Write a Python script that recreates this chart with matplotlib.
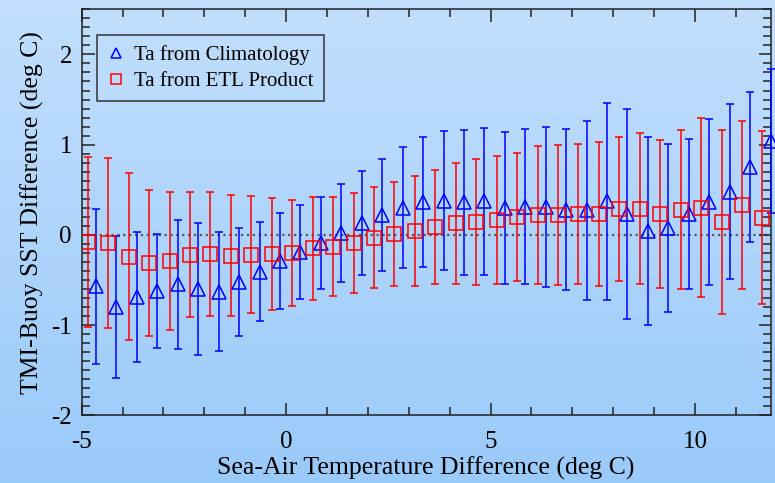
import numpy as np
import matplotlib
matplotlib.use("Agg")
import matplotlib.pyplot as plt
from matplotlib.ticker import MultipleLocator

plt.rcParams['font.family'] = ['Liberation Serif', 'DejaVu Serif']
plt.rcParams['axes.unicode_minus'] = False

# Sea-air temperature difference bins (deg C), offset per series
clim_x = np.arange(-4.65, 11.86, 0.5)
etl_x = np.arange(-4.85, 11.66, 0.5)

# Ta from Climatology: mean TMI-buoy SST difference and std dev
clim_y = [-0.57, -0.80, -0.69, -0.62, -0.55, -0.60, -0.63, -0.52, -0.41, -0.29,
          -0.19, -0.09, 0.02, 0.13, 0.22, 0.30, 0.36, 0.38, 0.36, 0.37,
          0.30, 0.31, 0.31, 0.28, 0.27, 0.37, 0.23, 0.04, 0.08, 0.23,
          0.36, 0.48, 0.75, 1.04]
clim_err = [0.86, 0.79, 0.72, 0.63, 0.71, 0.73, 0.66, 0.60, 0.55, 0.53,
            0.52, 0.51, 0.54, 0.58, 0.62, 0.67, 0.72, 0.77, 0.80, 0.82,
            0.84, 0.86, 0.89, 0.89, 0.99, 1.09, 1.16, 1.04, 0.93, 0.83,
            0.92, 0.97, 0.83, 0.80]

# Ta from ETL product
etl_y = [-0.08, -0.09, -0.24, -0.31, -0.29, -0.22, -0.21, -0.23, -0.22, -0.21,
         -0.20, -0.15, -0.13, -0.09, -0.03, 0.01, 0.04, 0.09, 0.13, 0.14,
         0.16, 0.20, 0.22, 0.22, 0.23, 0.23, 0.29, 0.29, 0.23, 0.28,
         0.30, 0.14, 0.33, 0.19]
etl_err = [0.94, 0.94, 0.93, 0.81, 0.76, 0.69, 0.69, 0.67, 0.65, 0.62,
           0.59, 0.57, 0.55, 0.55, 0.56, 0.58, 0.61, 0.63, 0.67, 0.70,
           0.71, 0.71, 0.76, 0.78, 0.78, 0.80, 0.80, 0.84, 0.82, 0.88,
           0.99, 1.02, 0.93, 0.96]

fig = plt.figure(figsize=(7.75, 4.83), dpi=100)

# light blue vertical gradient behind everything
bg = fig.add_axes([0, 0, 1, 1], zorder=-10)
top_c = np.array([194, 223, 253]) / 255
bot_c = np.array([154, 202, 250]) / 255
t = np.linspace(0, 1, 256)[:, None]
grad = (top_c * (1 - t) + bot_c * t)[:, None, :]
bg.imshow(grad, aspect='auto', extent=[0, 1, 0, 1])
bg.axis('off')

ax = fig.add_axes([0.1054, 0.1402, 0.8889, 0.8405])
ax.set_facecolor('none')

ax.axhline(0, color='#555555', linestyle=':', linewidth=1.6, zorder=1)

ax.errorbar(etl_x, etl_y, yerr=etl_err, fmt='none', ecolor='red',
            elinewidth=1.1, capsize=2.8, capthick=1.1, zorder=2)
ax.errorbar(clim_x, clim_y, yerr=clim_err, fmt='none', ecolor='blue',
            elinewidth=1.1, capsize=2.8, capthick=1.1, zorder=3, clip_on=False)
ax.plot(clim_x, clim_y, linestyle='none', marker='^', markersize=10,
        markerfacecolor='none', markeredgecolor='blue', markeredgewidth=1.1,
        label='Ta from Climatology', zorder=4, clip_on=False)
ax.plot(etl_x, etl_y, linestyle='none', marker='s', markersize=10,
        markerfacecolor='none', markeredgecolor='red', markeredgewidth=1.1,
        label='Ta from ETL Product', zorder=4)

ax.set_xlim(-5, 11.85)
ax.set_ylim(-2, 2.5)
ax.xaxis.set_major_locator(MultipleLocator(5))
ax.xaxis.set_minor_locator(MultipleLocator(1))
ax.yaxis.set_major_locator(MultipleLocator(1))
ax.yaxis.set_minor_locator(MultipleLocator(0.1))
ax.tick_params(which='both', direction='in', top=True, right=True,
               color='#222222', width=1.1, labelsize=18)
ax.tick_params(which='major', length=9)
ax.tick_params(which='minor', length=5.5)
ax.tick_params(axis='x', pad=11)
ax.tick_params(axis='y', pad=7)
for s in ax.spines.values():
    s.set_color('#222222')
    s.set_linewidth(1.1)

ax.set_xlabel('Sea-Air Temperature Difference (deg C)', fontsize=18.5, labelpad=3)
ax.set_ylabel('TMI-Buoy SST Difference (deg C)', fontsize=18.5, labelpad=5)

leg = ax.legend(loc='upper left', bbox_to_anchor=(0.022, 0.937),
                borderaxespad=0, fontsize=15, markerscale=0.7,
                handlelength=0.8, handletextpad=0.5, borderpad=0.5,
                labelspacing=0.3, fancybox=False, framealpha=1,
                facecolor='none', edgecolor='#333333')
leg.get_frame().set_linewidth(1.1)

fig.savefig('out.png', dpi=100)
